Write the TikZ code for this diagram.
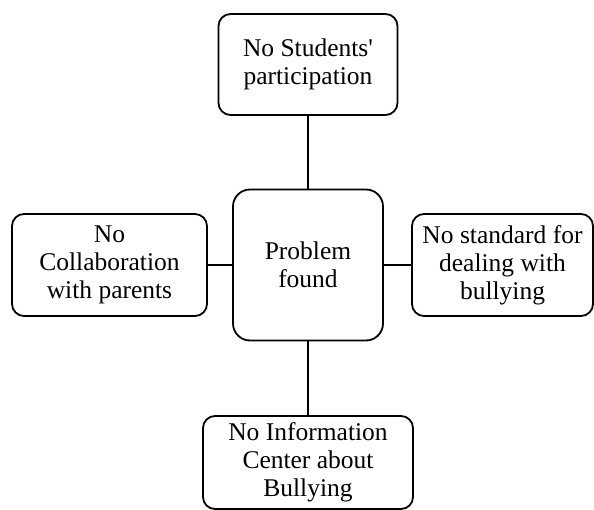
\documentclass[tikz,border=0pt]{standalone}
\usepackage{fontspec}
\setmainfont{Liberation Serif}
\begin{document}
\begin{tikzpicture}[x=1pt,y=-1pt,
  box/.style={draw=black,line width=1.8pt,rounded corners=12pt,inner sep=0pt,align=center,
    font=\fontsize{25.5}{28}\selectfont},
  link/.style={line width=1.8pt}]
\useasboundingbox (0,0) rectangle (594,510);
\node[box,minimum width=179pt,minimum height=101pt] (top) at (308,64.5) {No Students\textquotesingle\\participation};
\node[box,rounded corners=17pt,minimum width=150pt,minimum height=151pt] (ctr) at (308,265) {Problem\\found};
\node[box,minimum width=195pt,minimum height=102pt] (left) at (109.5,265) {No\\Collaboration\\with parents};
\node[box,minimum width=181pt,minimum height=102pt] (right) at (502.5,265) {No standard for\\dealing with\\bullying};
\node[box,minimum width=210pt,minimum height=93pt] (bot) at (308,462.5) {No Information\\Center about\\Bullying};
\draw[link] (top.south) -- (top.south |- ctr.north);
\draw[link] (left.east) -- (left.east -| ctr.west);
\draw[link] (ctr.east) -- (ctr.east -| right.west);
\draw[link] (ctr.south) -- (ctr.south |- bot.north);
\end{tikzpicture}
\end{document}
